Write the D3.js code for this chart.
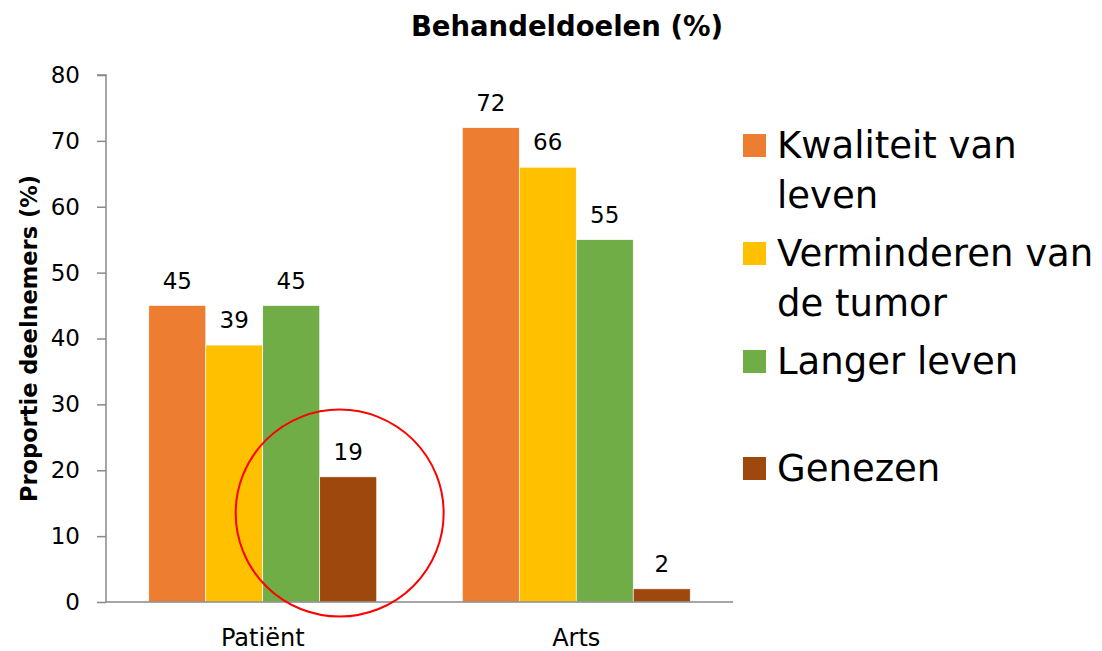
<!DOCTYPE html>
<html lang="nl">

<head>
    <meta charset="UTF-8">
    <title>Behandeldoelen</title>
    <script src="https://d3js.org/d3.v7.min.js"></script>
    <style>
        body { margin: 0; background: #fff; }
        text { font-family: "DejaVu Sans", sans-serif; fill: #000; }
    </style>
</head>

<body>
    <svg width="1102" height="651" class="chart"></svg>
</body>

<script>
    // data
    var categories = ['Patiënt', 'Arts'];
    var series = ['Kwaliteit van leven', 'Verminderen van de tumor', 'Langer leven', 'Genezen'];
    var values = {
        'Kwaliteit van leven': [45, 72],
        'Verminderen van de tumor': [39, 66],
        'Langer leven': [45, 55],
        'Genezen': [19, 2]
    };
    var legendLines = [['Kwaliteit van', 'leven'], ['Verminderen van', 'de tumor'], ['Langer leven'], ['Genezen']];
    var colors = ['#ED7D31', '#FFC000', '#70AD47', '#9E480E'];
    var yTicks = [0, 10, 20, 30, 40, 50, 60, 70, 80];

    var svg = d3.select('.chart');
    // plot area (window.top is taken, so own names)
    var pLeft = 106, pRight = 733, pTop = 75, pBottom = 602;

    // scales
    var x0 = d3.scaleBand().domain(categories).range([pLeft, pRight])
        .paddingInner(0.273).paddingOuter(0.1365);
    var x1 = d3.scaleBand().domain(series).range([0, x0.bandwidth()]);
    var y = d3.scaleLinear().domain([0, 80]).range([pBottom, pTop]);
    var color = d3.scaleOrdinal().domain(series).range(colors);

    // bars
    var rows = [];
    series.forEach(function (s) {
        categories.forEach(function (c, i) {
            rows.push({ s: s, c: c, v: values[s][i] });
        });
    });

    svg.append('g').selectAll('rect')
        .data(rows)
        .enter()
        .append('rect')
        .attr('x', function (d) { return x0(d.c) + x1(d.s); })
        .attr('y', function (d) { return y(d.v); })
        .attr('width', x1.bandwidth())
        .attr('height', function (d) { return y(0) - y(d.v); })
        .attr('fill', function (d) { return color(d.s); })
        .attr('stroke', '#fff')
        .attr('stroke-width', 0.6);

    // value labels
    svg.append('g').selectAll('text')
        .data(rows)
        .enter()
        .append('text')
        .attr('x', function (d) { return x0(d.c) + x1(d.s) + x1.bandwidth() / 2; })
        .attr('y', function (d) { return y(d.v) - 17; })
        .attr('text-anchor', 'middle')
        .style('font-size', '23px')
        .text(function (d) { return d.v; });

    // y axis
    var yAxis = svg.append('g')
        .attr('transform', 'translate(' + pLeft + ',0)')
        .call(d3.axisLeft(y).tickValues(yTicks).tickSize(9).tickPadding(17));
    yAxis.selectAll('line, path').attr('stroke', '#898989').attr('stroke-width', 1.5);
    yAxis.selectAll('text').style('font-size', '23px');
    yAxis.select('.domain').attr('d', 'M-9,' + pTop + 'H0V' + pBottom);

    // x axis
    var xAxis = svg.append('g')
        .attr('transform', 'translate(0,' + pBottom + ')')
        .call(d3.axisBottom(x0).tickSize(0).tickPadding(27));
    xAxis.select('.domain').attr('stroke', '#898989').attr('stroke-width', 1.5)
        .attr('d', 'M' + pLeft + ',0H' + pRight);
    xAxis.selectAll('text').style('font-size', '24px');

    // titles
    svg.append('text')
        .attr('x', 567).attr('y', 36)
        .attr('text-anchor', 'middle')
        .style('font-size', '27.5px').style('font-weight', 'bold')
        .text('Behandeldoelen (%)');

    svg.append('text')
        .attr('transform', 'translate(37,' + (pTop + pBottom) / 2 + ') rotate(-90)')
        .attr('text-anchor', 'middle')
        .style('font-size', '22.5px').style('font-weight', 'bold')
        .text('Proportie deelnemers (%)');

    // legend
    var legendY = [134, 242, 350, 457];
    var legend = svg.append('g').selectAll('g')
        .data(series)
        .enter()
        .append('g')
        .attr('transform', function (d, i) { return 'translate(743,' + legendY[i] + ')'; });

    legend.append('rect')
        .attr('width', 23).attr('height', 23)
        .attr('fill', function (d) { return color(d); });

    legend.append('text')
        .style('font-size', '37px')
        .selectAll('tspan')
        .data(function (d, i) { return legendLines[i]; })
        .enter()
        .append('tspan')
        .attr('x', 34)
        .attr('y', function (d, j) { return 24 + j * 50; })
        .text(function (d) { return d; });

    // red circle round the Genezen bar of the patients
    svg.append('ellipse')
        .attr('cx', x0('Patiënt') + x1('Genezen') + x1.bandwidth() * 0.35)
        .attr('cy', y(13.5))
        .attr('rx', 104).attr('ry', 103.5)
        .attr('fill', 'none')
        .attr('stroke', '#FF0000')
        .attr('stroke-width', 2);
</script>

</html>
